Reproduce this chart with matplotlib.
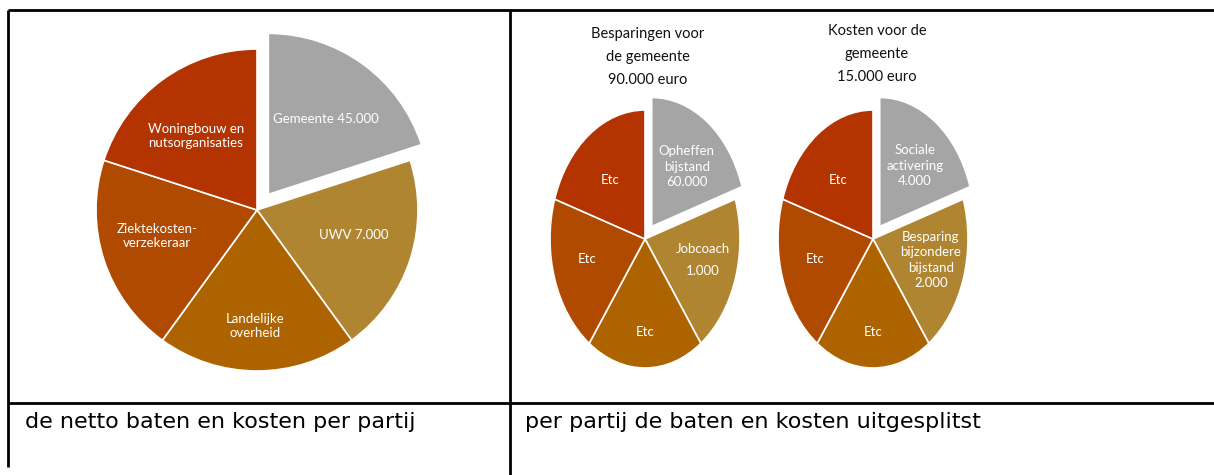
import matplotlib
matplotlib.use("Agg")
import matplotlib.pyplot as plt

# ---------------- data ----------------
# Left pie: net benefits / costs per party (five equal slices)
left_labels = ["Gemeente 45.000", "UWV 7.000", "Landelijke\noverheid",
               "Ziektekosten-\nverzekeraar", "Woningbouw en\nnutsorganisaties"]
left_sizes = [1, 1, 1, 1, 1]

# Middle pie: savings for the municipality
mid_title = "Besparingen voor\nde gemeente\n90.000 euro"
mid_labels = ["Opheffen\nbijstand\n60.000", "Jobcoach\n1.000", "Etc", "Etc", "Etc"]
mid_sizes = [1, 1, 1, 1, 1]

# Right pie: costs for the municipality
right_title = "Kosten voor de\ngemeente\n15.000 euro"
right_labels = ["Sociale\nactivering\n4.000", "Besparing\nbijzondere\nbijstand\n2.000", "Etc", "Etc", "Etc"]
right_sizes = [1, 1, 1, 1, 1]

captions = ["de netto baten en kosten per partij", "per partij de baten en kosten uitgesplitst"]

# ---------------- style ----------------
colors = ["#A5A5A5", "#B08532", "#AD6300", "#B04A00", "#B33400"]
explode = [0.12, 0, 0, 0, 0]
FONT = ["Lato", "DejaVu Sans"]

W, H = 1214, 475
fig = plt.figure(figsize=(W / 100, H / 100), dpi=100)
bg = fig.add_axes([0, 0, 1, 1])
bg.set_xlim(0, W)
bg.set_ylim(H, 0)
bg.axis("off")

# table lines
lw = 2.0
bg.plot([8, W], [10, 10], color="black", lw=lw, solid_capstyle="butt")
bg.plot([8, 8], [10, 467], color="black", lw=lw, solid_capstyle="butt")
bg.plot([510, 510], [10, H], color="black", lw=lw, solid_capstyle="butt")
bg.plot([8, W], [403, 403], color="black", lw=lw, solid_capstyle="butt")

bg.text(25, 428, captions[0], fontsize=16, family=["DejaVu Sans"], va="baseline", ha="left")
bg.text(525, 428, captions[1], fontsize=16, family=["DejaVu Sans"], va="baseline", ha="left")


def pie_axes(cx, cy, rx, ry, k=1.35):
    ax = fig.add_axes([(cx - rx * k) / W, 1 - (cy + ry * k) / H,
                       2 * rx * k / W, 2 * ry * k / H])
    return ax, k


def draw_pie(ax, k, sizes, labels, label_pos, fs, spacing):
    ax.pie(sizes, colors=colors, explode=explode, startangle=90,
           counterclock=False,
           wedgeprops=dict(edgecolor="white", linewidth=1.2))
    ax.set_aspect("auto")
    ax.set_xlim(-k, k)
    ax.set_ylim(-k, k)
    for lab, (x, y), ls in zip(labels, label_pos, spacing):
        ax.text(x, y, lab, ha="center", va="center", color="white",
                fontsize=fs, family=FONT, linespacing=ls)


# left pie
ax1, k1 = pie_axes(257, 210, 161, 161)
pos1 = [(0.43, 0.565), (0.60, -0.155), (-0.01, -0.72), (-0.62, -0.16), (-0.38, 0.46)]
draw_pie(ax1, k1, left_sizes, left_labels, pos1, 9.5, [1.2] * 5)

# middle pie
ax2, k2 = pie_axes(645, 239, 95, 129)
pos2 = [(0.44, 0.56), (0.61, -0.163), (0.0, -0.72), (-0.61, -0.155), (-0.37, 0.457)]
draw_pie(ax2, k2, mid_sizes, mid_labels, pos2, 9.5, [1.35, 2.0, 1.35, 1.35, 1.35])

# right pie
ax3, k3 = pie_axes(873, 239, 95, 129)
pos3 = [(0.44, 0.566), (0.61, -0.163), (0.0, -0.72), (-0.61, -0.155), (-0.37, 0.457)]
draw_pie(ax3, k3, right_sizes, right_labels, pos3, 9.5, [1.35] * 5)

bg.text(648, 57, mid_title, ha="center", va="center", fontsize=10.5,
        family=FONT, linespacing=1.85, color="#111111")
bg.text(877, 54, right_title, ha="center", va="center", fontsize=10.5,
        family=FONT, linespacing=1.85, color="#111111")

fig.savefig("out.png", dpi=100)
